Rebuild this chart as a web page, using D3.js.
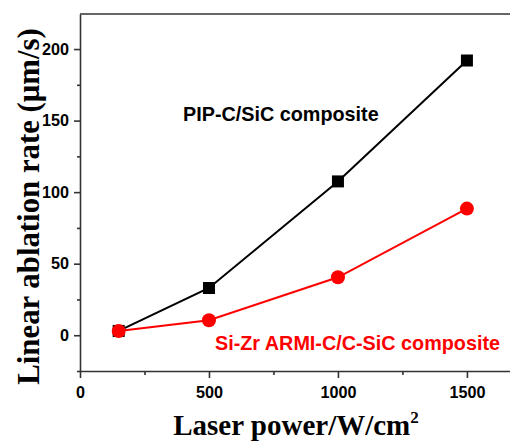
<!DOCTYPE html>
<html>
<head>
<meta charset="utf-8">
<script src="https://cdn.jsdelivr.net/npm/d3@7"></script>
<style>
  body { margin: 0; background: #fff; }
  svg { display: block; }
</style>
</head>
<body>
<svg></svg>
<script>
const power = [150, 500, 1000, 1500];
const pipRate = [3, 33, 107.5, 192];
const armiRate = [3, 10.5, 40.5, 88.5];
const xTicks = [0, 500, 1000, 1500];
const yTicks = [0, 50, 100, 150, 200];

const WIDTH = 510;
const HEIGHT = 443;
const margin = { top: 14, right: 0, bottom: 72, left: 80 };

const svg = d3.select('svg')
    .attr('width', WIDTH)
    .attr('height', HEIGHT);

const x = d3.scaleLinear()
    .domain([0, 1667])
    .range([margin.left, WIDTH - margin.right]);
const y = d3.scaleLinear()
    .domain([-25, 224.5])
    .range([HEIGHT - margin.bottom, margin.top]);

// x axis, major + minor ticks
svg.append('g')
    .attr('transform', `translate(0, ${y(-25)})`)
    .call(d3.axisBottom(x).tickValues(xTicks).tickFormat(d3.format('d'))
        .tickSize(7).tickPadding(8).tickSizeOuter(0));
svg.append('g')
    .attr('transform', `translate(0, ${y(-25)})`)
    .call(d3.axisBottom(x).tickValues([250, 750, 1250]).tickSize(4).tickFormat('').tickSizeOuter(0))
    .select('.domain').remove();

// y axis
svg.append('g')
    .attr('transform', `translate(${margin.left}, 0)`)
    .call(d3.axisLeft(y).tickValues(yTicks).tickFormat(d3.format('d'))
        .tickSize(6).tickPadding(5).tickSizeOuter(0));
svg.append('g')
    .attr('transform', `translate(${margin.left}, 0)`)
    .call(d3.axisLeft(y).tickValues([-25, 25, 75, 125, 175]).tickSize(3).tickFormat('').tickSizeOuter(0))
    .select('.domain').remove();

// top frame line
svg.append('line')
    .attr('x1', x(0)).attr('x2', WIDTH)
    .attr('y1', y(224.5)).attr('y2', y(224.5))
    .attr('stroke', '#333').attr('stroke-width', 1.6);

svg.selectAll('.domain, .tick line')
    .attr('stroke', '#333')
    .attr('stroke-width', 1.6);
svg.selectAll('.tick text')
    .attr('font-family', '"Liberation Sans", Arial, sans-serif')
    .attr('font-size', 16.2)
    .attr('font-weight', 'bold')
    .attr('fill', '#000');

const line = d3.line()
    .x((d) => x(d[0]))
    .y((d) => y(d[1]));

const pipData = power.map((p, i) => [p, pipRate[i]]);
const armiData = power.map((p, i) => [p, armiRate[i]]);

svg.append('path')
    .datum(pipData)
    .attr('d', line)
    .attr('fill', 'none')
    .attr('stroke', '#000')
    .attr('stroke-width', 2);

svg.selectAll('rect.pip')
    .data(pipData)
  .enter().append('rect')
    .attr('class', 'pip')
    .attr('x', (d) => x(d[0]) - 6)
    .attr('y', (d) => y(d[1]) - 6)
    .attr('width', 12)
    .attr('height', 12)
    .attr('fill', '#000');

svg.append('path')
    .datum(armiData)
    .attr('d', line)
    .attr('fill', 'none')
    .attr('stroke', '#f00')
    .attr('stroke-width', 2);

svg.selectAll('circle.armi')
    .data(armiData)
  .enter().append('circle')
    .attr('class', 'armi')
    .attr('cx', (d) => x(d[0]))
    .attr('cy', (d) => y(d[1]))
    .attr('r', 7)
    .attr('fill', '#f00');

// series labels
svg.append('text')
    .attr('x', 183)
    .attr('y', 121)
    .style('font', 'bold 19.8px "Liberation Sans", Arial, sans-serif')
    .attr('fill', '#000')
    .text('PIP-C/SiC composite');

svg.append('text')
    .attr('x', 215)
    .attr('y', 350)
    .style('font', 'bold 19.8px "Liberation Sans", Arial, sans-serif')
    .attr('fill', '#f00')
    .text('Si-Zr ARMI-C/C-SiC composite');

// axis titles
const xt = svg.append('text')
    .attr('x', 296)
    .attr('y', 435)
    .attr('text-anchor', 'middle')
    .style('font', 'bold 29px "Liberation Serif", "Times New Roman", serif')
    .attr('fill', '#000');
xt.append('tspan').text('Laser power/W/cm');
xt.append('tspan').attr('dy', -12).style('font-size', '17px').text('2');

svg.append('text')
    .attr('transform', `translate(39, ${(23 + 390) / 2}) rotate(-90)`)
    .attr('text-anchor', 'middle')
    .style('font', 'bold 30.8px "Liberation Serif", "Times New Roman", serif')
    .attr('fill', '#000')
    .text('Linear ablation rate (μm/s)');
</script>
</body>
</html>
